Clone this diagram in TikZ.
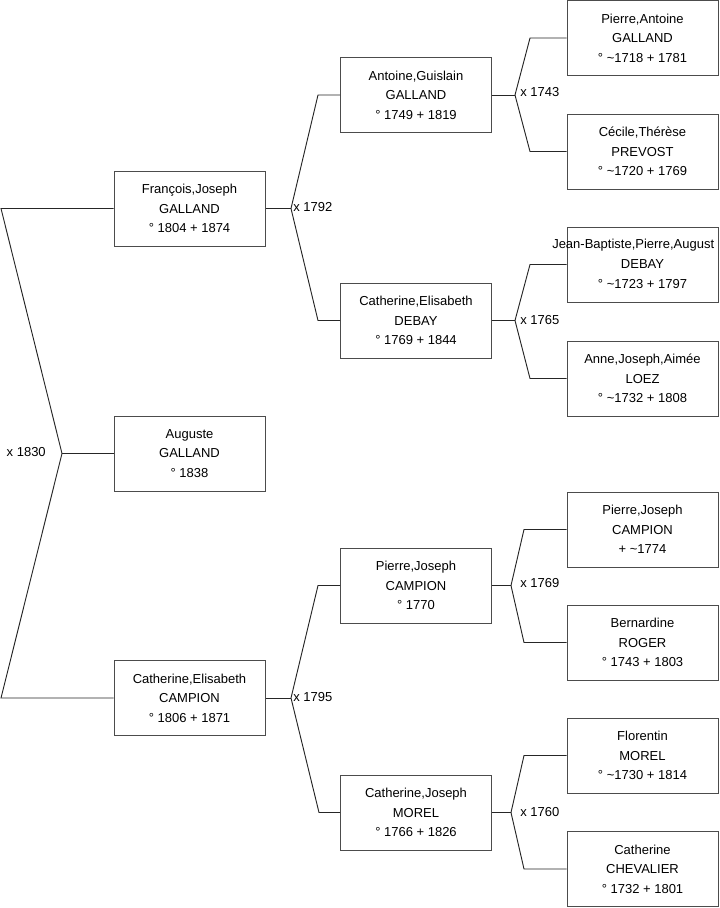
\documentclass[tikz,border=0pt]{standalone}
\usepackage{fontspec}
\setmainfont{Liberation Sans}
\begin{document}
\begin{tikzpicture}[x=0.75pt,y=-0.75pt,
  box/.style={draw=black!70,line width=0.75pt,fill=white,minimum width=113.25pt,minimum height=56.25pt,
    align=center,inner sep=0pt,font=\fontsize{9.75}{14.6}\selectfont},
  conn/.style={draw=black!85,line width=0.7pt},
  lbl/.style={font=\fontsize{9.75}{12}\selectfont,inner sep=0pt}]
\useasboundingbox (0,0) rectangle (719,908);
% generation 1
\node[box] (francois) at (189.5,208.5) {François,Joseph\\GALLAND\\° 1804 + 1874};
\node[box] (auguste) at (189.5,453.5) {Auguste\\GALLAND\\° 1838};
\node[box] (campion) at (189.5,698) {Catherine,Elisabeth\\CAMPION\\° 1806 + 1871};
% generation 2
\node[box] (antoine) at (416,95) {Antoine,Guislain\\GALLAND\\° 1749 + 1819};
\node[box] (debay) at (416,320.5) {Catherine,Elisabeth\\DEBAY\\° 1769 + 1844};
\node[box] (pjcampion) at (416,585.5) {Pierre,Joseph\\CAMPION\\° 1770};
\node[box] (morel) at (416,812.5) {Catherine,Joseph\\MOREL\\° 1766 + 1826};
% generation 3
\node[box] (pagalland) at (642.5,38) {Pierre,Antoine\\GALLAND\\° \textasciitilde 1718 + 1781};
\node[box] (prevost) at (642.5,151.5) {Cécile,Thérèse\\PREVOST\\° \textasciitilde 1720 + 1769};
\node[box] (jbdebay) at (642.5,264.5) {\phantom{X}\\DEBAY\\° \textasciitilde 1723 + 1797};
\node[lbl,anchor=west] (jbname) at (552,245) {Jean-Baptiste,Pierre,August};
\node[box] (loez) at (642.5,378.5) {Anne,Joseph,Aimée\\LOEZ\\° \textasciitilde 1732 + 1808};
\node[box] (pjcampion2) at (642.5,529.5) {Pierre,Joseph\\CAMPION\\+ \textasciitilde 1774};
\node[box] (roger) at (642.5,642.5) {Bernardine\\ROGER\\° 1743 + 1803};
\node[box] (fmorel) at (642.5,755.5) {Florentin\\MOREL\\° \textasciitilde 1730 + 1814};
\node[box] (chevalier) at (642.5,869) {Catherine\\CHEVALIER\\° 1732 + 1801};
% fork coordinates
\coordinate (v1) at (62,0 |- auguste.west);
\coordinate (t1) at (1,0 |- francois.west);
\coordinate (b1) at (1,0 |- campion.west);
\coordinate (v2) at (291,0 |- francois.east);
\coordinate (t2) at (318,0 |- antoine.west);
\coordinate (b2) at (318,0 |- debay.west);
\coordinate (v3) at (291,0 |- campion.east);
\coordinate (t3) at (318,0 |- pjcampion.west);
\coordinate (b3) at (319,0 |- morel.west);
\coordinate (v4) at (515,0 |- antoine.east);
\coordinate (t4) at (530,0 |- pagalland.west);
\coordinate (b4) at (530,0 |- prevost.west);
\coordinate (v5) at (515,0 |- debay.east);
\coordinate (t5) at (530,0 |- jbdebay.west);
\coordinate (b5) at (530,0 |- loez.west);
\coordinate (v6) at (511,0 |- pjcampion.east);
\coordinate (t6) at (524,0 |- pjcampion2.west);
\coordinate (b6) at (524,0 |- roger.west);
\coordinate (v7) at (511,0 |- morel.east);
\coordinate (t7) at (524,0 |- fmorel.west);
\coordinate (b7) at (524,0 |- chevalier.west);
% connectors
\draw[conn] (francois.west) -- (t1) -- (v1) -- (b1) -- (campion.west);
\draw[conn] (v1) -- (auguste.west);
\draw[conn] (antoine.west) -- (t2) -- (v2) -- (b2) -- (debay.west);
\draw[conn] (v2) -- (francois.east);
\draw[conn] (pjcampion.west) -- (t3) -- (v3) -- (b3) -- (morel.west);
\draw[conn] (v3) -- (campion.east);
\draw[conn] (pagalland.west) -- (t4) -- (v4) -- (b4) -- (prevost.west);
\draw[conn] (v4) -- (antoine.east);
\draw[conn] (jbdebay.west) -- (t5) -- (v5) -- (b5) -- (loez.west);
\draw[conn] (v5) -- (debay.east);
\draw[conn] (pjcampion2.west) -- (t6) -- (v6) -- (b6) -- (roger.west);
\draw[conn] (v6) -- (pjcampion.east);
\draw[conn] (fmorel.west) -- (t7) -- (v7) -- (b7) -- (chevalier.west);
\draw[conn] (v7) -- (morel.east);
% labels
\node[lbl,anchor=east] (l1) at (46,452) {x 1830};
\node[lbl,anchor=west] (l2) at (293,207) {x 1792};
\node[lbl,anchor=west] (l3) at (293,697) {x 1795};
\node[lbl,anchor=west] (l4) at (520,92) {x 1743};
\node[lbl,anchor=west] (l5) at (520,320) {x 1765};
\node[lbl,anchor=west] (l6) at (520,583) {x 1769};
\node[lbl,anchor=west] (l7) at (520,812) {x 1760};
\end{tikzpicture}
\end{document}
